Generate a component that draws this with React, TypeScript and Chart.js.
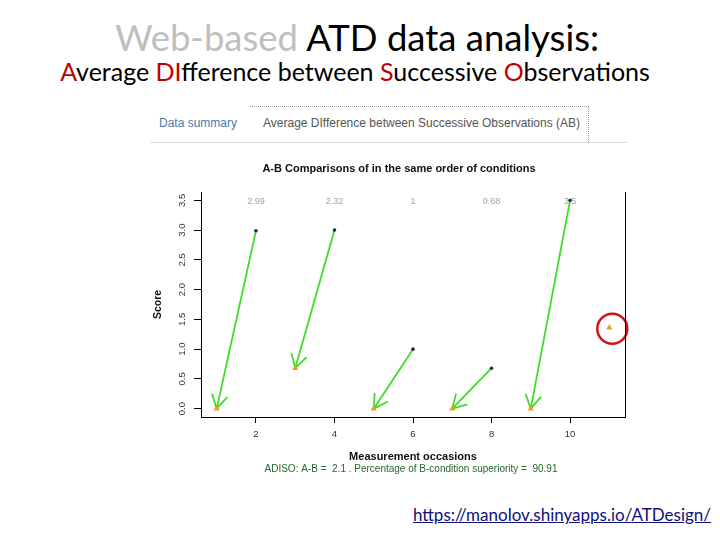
import React, { useEffect, useRef } from "react";
import { Chart, registerables } from "chart.js";

Chart.register(...registerables);

// ---- data ----
const aOccasions = [2, 4, 6, 8, 10];
const aScores = [2.99, 3.0, 1.0, 0.68, 3.5];
const bOccasions = [1, 3, 5, 7, 9, 11];
const bScores = [0, 0.68, 0, 0, 0, 1.36];
const differenceLabels = ["2.99", "2.32", "1", "0.68", "3.5"];
const xTickValues = [2, 4, 6, 8, 10];
const yTickValues = [0, 0.5, 1, 1.5, 2, 2.5, 3, 3.5];
const highlightedB = 5;
const adisoValue = "2.1";
const superiorityPct = "90.91";

const ARROW_COLOR = "#3fdc2a";
const R_FONT = "'Liberation Sans', Arial, sans-serif";

const annotationPlugin = {
  id: "adisoAnnotations",
  beforeDatasetsDraw(chart: any) {
    const { ctx } = chart;
    const xs = chart.scales.x;
    const ys = chart.scales.y;
    ctx.save();
    ctx.strokeStyle = ARROW_COLOR;
    ctx.lineWidth = 1.8;
    ctx.lineCap = "round";
    aOccasions.forEach((ax, i) => {
      const x0 = xs.getPixelForValue(ax);
      const y0 = ys.getPixelForValue(aScores[i]);
      const x1 = xs.getPixelForValue(bOccasions[i]);
      const y1 = ys.getPixelForValue(bScores[i]);
      ctx.beginPath();
      ctx.moveTo(x0, y0);
      ctx.lineTo(x1, y1);
      const ang = Math.atan2(y1 - y0, x1 - x0);
      for (const s of [-1, 1]) {
        const a = ang + Math.PI + (s * Math.PI) / 6;
        ctx.moveTo(x1, y1);
        ctx.lineTo(x1 + 15 * Math.cos(a), y1 + 15 * Math.sin(a));
      }
      ctx.stroke();
    });
    ctx.restore();
  },
  afterDatasetsDraw(chart: any) {
    const { ctx } = chart;
    const xs = chart.scales.x;
    const ys = chart.scales.y;
    ctx.save();
    // difference labels along the top
    ctx.font = `9px ${R_FONT}`;
    ctx.fillStyle = "#a2a2a2";
    ctx.textAlign = "center";
    ctx.textBaseline = "middle";
    const level = yTickValues[yTickValues.length - 1];
    aOccasions.forEach((ax, i) => {
      ctx.fillText(differenceLabels[i], xs.getPixelForValue(ax), ys.getPixelForValue(level) + 1);
    });
    // red highlight circle
    const cx = xs.getPixelForValue(bOccasions[highlightedB]) + 3;
    const cy = ys.getPixelForValue(bScores[highlightedB]) + 1;
    ctx.strokeStyle = "#cc1414";
    ctx.lineWidth = 2.5;
    ctx.beginPath();
    ctx.arc(cx, cy, 15, 0, Math.PI * 2);
    ctx.stroke();
    ctx.restore();
  },
  afterDraw(chart: any) {
    const { ctx, chartArea } = chart;
    ctx.save();
    // right side of the plot box
    const rx = Math.round(chartArea.right) + 0.5;
    ctx.strokeStyle = "#000";
    ctx.lineWidth = 1;
    ctx.beginPath();
    ctx.moveTo(rx, chartArea.top);
    ctx.lineTo(rx, chartArea.bottom);
    ctx.stroke();
    // main title
    ctx.font = `bold 11px ${R_FONT}`;
    ctx.fillStyle = "#111";
    ctx.textAlign = "center";
    ctx.textBaseline = "middle";
    ctx.fillText("A-B Comparisons of in the same order of conditions", chartArea.left + 198, 19);
    // ADISO summary line
    ctx.font = `10px ${R_FONT}`;
    ctx.fillStyle = "#24692a";
    ctx.fillText(
      `ADISO: A-B =  ${adisoValue} . Percentage of B-condition superiority =  ${superiorityPct}`,
      (chartArea.left + chartArea.right) / 2 - 2,
      319
    );
    ctx.restore();
  },
};

function AdisoChart() {
  const ref = useRef<HTMLCanvasElement | null>(null);
  useEffect(() => {
    if (!ref.current) return;
    const chart = new Chart(ref.current, {
      type: "scatter",
      data: {
        datasets: [
          {
            label: "A",
            data: aOccasions.map((x, i) => ({ x, y: aScores[i] })),
            pointStyle: "circle",
            pointRadius: 1.8,
            pointBackgroundColor: "#16305c",
            pointBorderWidth: 0,
          },
          {
            label: "B",
            data: bOccasions.map((x, i) => ({ x, y: bScores[i] })),
            pointStyle: "triangle",
            pointRadius: 3.6,
            pointBackgroundColor: "#e8a317",
            pointBorderWidth: 0,
          },
        ],
      },
      options: {
        responsive: false,
        animation: false,
        events: [],
        layout: { padding: { left: 0, top: 42, right: 7, bottom: 0 } },
        plugins: {
          legend: { display: false },
          tooltip: { enabled: false },
          title: { display: false },
        },
        scales: {
          x: {
            type: "linear",
            min: 0.6,
            max: 11.4,
            afterBuildTicks: (s: any) => {
              s.ticks = xTickValues.map((v) => ({ value: v }));
            },
            afterFit: (s: any) => {
              s.height = 63;
            },
            ticks: {
              autoSkip: false,
              minRotation: 0,
              maxRotation: 0,
              padding: 6,
              color: "#333",
              font: { family: R_FONT, size: 9.5 },
              callback: (v: any) => String(v),
            },
            grid: { drawOnChartArea: false, drawTicks: true, tickLength: 6, color: "#000", lineWidth: 1 },
            border: { display: true, color: "#000", width: 1 },
            title: {
              display: true,
              text: "Measurement occasions",
              color: "#111",
              font: { family: R_FONT, size: 11, weight: "bold" },
              padding: { top: 0, bottom: 16 },
            },
          },
          y: {
            type: "linear",
            min: -0.14,
            max: 3.64,
            afterBuildTicks: (s: any) => {
              s.ticks = yTickValues.map((v) => ({ value: v }));
            },
            afterFit: (s: any) => {
              s.width = 51;
            },
            ticks: {
              autoSkip: false,
              minRotation: 90,
              maxRotation: 90,
              crossAlign: "center",
              padding: 5,
              color: "#333",
              font: { family: R_FONT, size: 9.5 },
              callback: (v: any) => Number(v).toFixed(1),
            },
            grid: { drawOnChartArea: false, drawTicks: true, tickLength: 7, color: "#000", lineWidth: 1 },
            border: { display: true, color: "#000", width: 1 },
            title: {
              display: true,
              text: "Score",
              color: "#111",
              font: { family: R_FONT, size: 10.5, weight: "bold" },
              padding: { top: 2, bottom: 0 },
            },
          },
        },
      } as any,
      plugins: [annotationPlugin],
    });
    return () => chart.destroy();
  }, []);
  return (
    <canvas
      ref={ref}
      width={482}
      height={330}
      style={{ position: "absolute", left: 150, top: 150, width: 482, height: 330 }}
    />
  );
}

const SLIDE_FONT = "Lato, 'Open Sans', sans-serif";
const red = "#c00000";

export default function App() {
  return (
    <div
      style={{
        position: "absolute",
        left: 0,
        top: 0,
        width: 720,
        height: 540,
        background: "#fff",
        overflow: "hidden",
      }}
    >
      <div
        style={{
          position: "absolute",
          left: 0,
          top: 18.5,
          width: 714,
          textAlign: "center",
          fontFamily: SLIDE_FONT,
          fontSize: 36.5,
          lineHeight: "36.5px",
          whiteSpace: "nowrap",
          color: "#000",
        }}
      >
        <span style={{ color: "#bfbfbf" }}>Web-based</span> ATD data analysis:
      </div>
      <div
        style={{
          position: "absolute",
          left: 0,
          top: 59,
          width: 710,
          textAlign: "center",
          fontFamily: SLIDE_FONT,
          fontSize: 25,
          lineHeight: "25px",
          whiteSpace: "nowrap",
          color: "#000",
        }}
      >
        <span style={{ color: red }}>A</span>verage <span style={{ color: red }}>DI</span>fference between{" "}
        <span style={{ color: red }}>S</span>uccessive <span style={{ color: red }}>O</span>bservations
      </div>

      {/* tab bar of the web app */}
      <div
        style={{
          position: "absolute",
          left: 250,
          top: 106,
          width: 338,
          height: 35,
          borderTop: "1px dotted #9a9a9a",
          borderRight: "1px dotted #9a9a9a",
        }}
      />
      <div style={{ position: "absolute", left: 150, top: 142, width: 478, height: 1, background: "#dcdcdc" }} />
      <div
        style={{
          position: "absolute",
          left: 159,
          top: 116,
          fontFamily: R_FONT,
          fontSize: 12,
          lineHeight: "14px",
          color: "#4a79ad",
          whiteSpace: "nowrap",
        }}
      >
        Data summary
      </div>
      <div
        style={{
          position: "absolute",
          left: 263,
          top: 116,
          fontFamily: R_FONT,
          fontSize: 12,
          lineHeight: "14px",
          color: "#555",
          whiteSpace: "nowrap",
        }}
      >
        Average DIfference between Successive Observations (AB)
      </div>

      <AdisoChart />

      <div
        style={{
          position: "absolute",
          right: 9,
          top: 505,
          fontFamily: SLIDE_FONT,
          fontSize: 17,
          lineHeight: "20px",
          color: "#10107a",
          textDecoration: "underline",
          whiteSpace: "nowrap",
        }}
      >
        https://manolov.shinyapps.io/ATDesign/
      </div>
    </div>
  );
}
